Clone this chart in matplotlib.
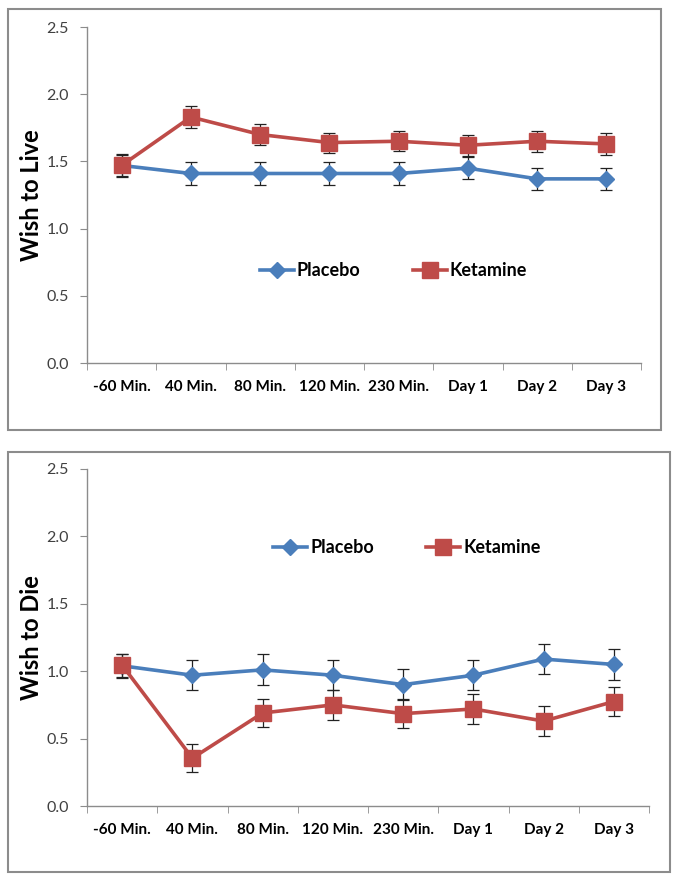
import numpy as np
import matplotlib
matplotlib.use("Agg")
import matplotlib.pyplot as plt
from matplotlib.patches import Rectangle
from matplotlib.lines import Line2D

plt.rcParams['font.family'] = ['Lato', 'DejaVu Sans']

categories = ["-60 Min.", "40 Min.", "80 Min.", "120 Min.", "230 Min.", "Day 1", "Day 2", "Day 3"]

# Wish to Live
liveKetamine = [1.47, 1.83, 1.70, 1.64, 1.65, 1.62, 1.65, 1.63]
liveKetamineErr = [0.08, 0.08, 0.077, 0.075, 0.075, 0.077, 0.077, 0.08]
livePlacebo = [1.47, 1.41, 1.41, 1.41, 1.41, 1.45, 1.37, 1.37]
livePlaceboErr = [0.083, 0.083, 0.083, 0.083, 0.083, 0.084, 0.082, 0.082]

# Wish to Die
diePlacebo = [1.04, 0.97, 1.01, 0.97, 0.90, 0.97, 1.09, 1.05]
diePlaceboErr = [0.09, 0.113, 0.116, 0.113, 0.113, 0.113, 0.114, 0.114]
dieKetamine = [1.045, 0.355, 0.69, 0.75, 0.685, 0.72, 0.63, 0.775]
dieKetamineErr = [0.085, 0.105, 0.107, 0.11, 0.106, 0.11, 0.109, 0.109]

yTicks = [0.0, 0.5, 1.0, 1.5, 2.0, 2.5]

blue = "#4a7ebb"
red = "#be4b48"
gray = "#8c8c8c"

fig = plt.figure(figsize=(6.79, 8.81), dpi=100)
W, H = 679.0, 881.0

def px(x0, y0, x1, y1):
    # pixel box (from top-left) -> figure fraction [l, b, w, h]
    return [x0 / W, 1 - y1 / H, (x1 - x0) / W, (y1 - y0) / H]

# outer frames around each chart
for box in [(8, 9, 661, 430), (8, 452, 670, 872)]:
    l, b, w, h = px(*box)
    fig.patches.append(Rectangle((l, b), w, h, transform=fig.transFigure,
                                 fill=False, edgecolor=gray, lw=1.5))

def drawPanel(rect, placebo, placeboErr, ketamine, ketamineErr, ylabel, legendY, legendX):
    ax = fig.add_axes(px(*rect))
    x = np.arange(len(categories))
    ax.errorbar(x, placebo, yerr=placeboErr, color=blue, lw=2.6, marker="D", ms=8,
                mec=blue, mfc=blue, ecolor="#222222", elinewidth=0.9, capsize=4, capthick=0.9,
                zorder=3)
    ax.errorbar(x, ketamine, yerr=ketamineErr, color=red, lw=2.6, marker="s", ms=11,
                mec=red, mfc=red, ecolor="#222222", elinewidth=0.9, capsize=4, capthick=0.9,
                zorder=4)
    ax.set_xlim(-0.5, len(categories) - 0.5)
    ax.set_ylim(0, 2.5)
    ax.set_yticks(yTicks)
    ax.set_yticklabels(["%.1f" % v for v in yTicks], color="#404040", fontsize=11.5)
    ax.set_xticks(x)
    ax.set_xticklabels(categories, fontsize=11, fontweight="bold")
    ax.set_xticks(np.arange(-0.5, len(categories)), minor=True)
    ax.tick_params(axis="x", which="major", length=0, pad=12)
    ax.tick_params(axis="x", which="minor", length=5, color=gray, direction="out")
    ax.tick_params(axis="y", length=5, color=gray, pad=8)
    for s in ["top", "right"]:
        ax.spines[s].set_visible(False)
    for s in ["left", "bottom"]:
        ax.spines[s].set_color(gray)
        ax.spines[s].set_linewidth(1.0)
    ax.set_ylabel(ylabel, fontsize=17, fontweight="bold")
    ax.yaxis.set_label_coords(-0.079, 0.5)
    handles = [Line2D([], [], color=blue, lw=2.6, marker="D", ms=8),
               Line2D([], [], color=red, lw=2.6, marker="s", ms=11)]
    ax.legend(handles, ["Placebo", "Ketamine"], loc="center left", bbox_to_anchor=(legendX, legendY),
              ncol=2, frameon=False, prop={"size": 13, "weight": "bold"}, handlelength=1.9,
              handletextpad=0.15, columnspacing=2.9, borderpad=0, borderaxespad=0)
    return ax

drawPanel((87, 27, 641, 363), livePlacebo, livePlaceboErr, liveKetamine, liveKetamineErr,
          "Wish to Live", 0.275, 0.312)
drawPanel((87, 469, 649, 806), diePlacebo, diePlaceboErr, dieKetamine, dieKetamineErr,
          "Wish to Die", 0.766, 0.331)

fig.savefig("out.png", dpi=100)
